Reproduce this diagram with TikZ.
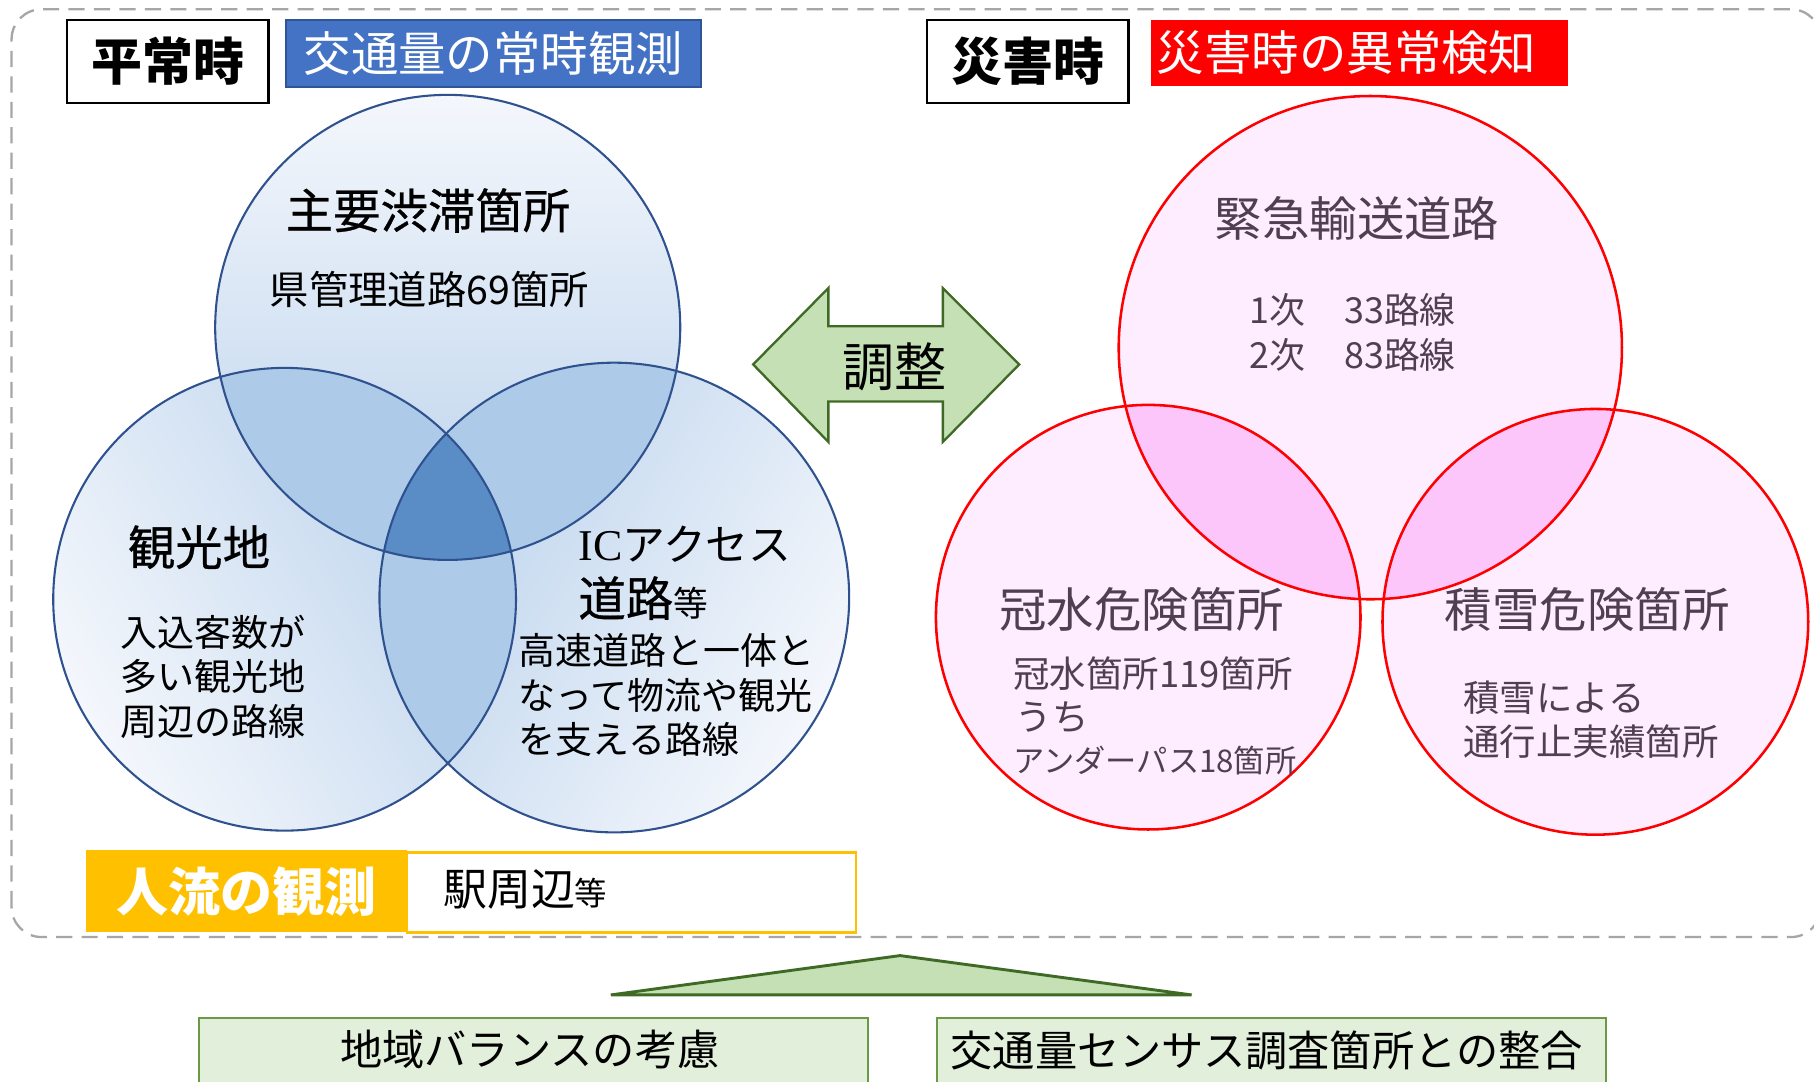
\documentclass[tikz,border=0pt]{standalone}
\usepackage{fontspec}
\setmainfont{Noto Sans CJK JP}
\newfontfamily\serifIC{Liberation Serif}
\newfontfamily\semib{Noto Sans CJK JP}[FakeBold=0.6]
\definecolor{vblue}{HTML}{2F528F}
\definecolor{vlight}{HTML}{F4F7FC}
\definecolor{vmid}{HTML}{BAD2EC}
\definecolor{vpair}{HTML}{ADCBE9}
\definecolor{vtriple}{HTML}{5A8DC5}
\definecolor{pfill}{HTML}{FEEDFE}
\definecolor{ppair}{HTML}{FCC6FA}
\definecolor{ptext}{HTML}{503F50}
\definecolor{hdrblue}{HTML}{4472C4}
\definecolor{hdrblueb}{HTML}{2F5597}
\definecolor{amber}{HTML}{FFC000}
\definecolor{agreen}{HTML}{C5E0B4}
\definecolor{agreenb}{HTML}{3F6A25}
\definecolor{bgreen}{HTML}{E2EFDA}
\definecolor{bgreenb}{HTML}{6B9A45}
\definecolor{dgray}{HTML}{A6A6A6}
\newcommand\fs[1]{\fontsize{#1}{#1}\selectfont}
\newcommand\fsl[2]{\fontsize{#1}{#2}\selectfont}
\begin{document}
\begin{tikzpicture}[x=1pt,y=1pt,
  every node/.style={inner sep=0pt, outer sep=0pt},
  hdrbox/.style={draw=black, line width=2pt, fill=white, minimum width=174pt, minimum height=72pt},
  vcircle/.style={vblue, line width=1.8pt},
  pcircle/.style={red, line width=2.2pt},
  vtitle/.style={font=\semib\fs{41}},
  vsub/.style={font=\fsl{32}{38.5}, align=left},
  ptitle/.style={font=\fs{41}, text=ptext},
  psub/.style={font=\fsl{31.5}{38}, align=left, text=ptext},
  greenbox/.style={draw=bgreenb, fill=bgreen, line width=2pt, minimum width=578pt, minimum height=75pt, anchor=north west}]
\clip (0,0) rectangle (1568,935);
\fill[white] (0,0) rectangle (1568,935);

% dashed frame
\draw[dgray, line width=2pt, dash pattern=on 14pt off 8pt, rounded corners=26pt] (10,125) rectangle (1574,927);

% headers
\node[hdrbox] (heijo) at (145,882) {\fs{44}\bfseries 平常時};
\node[draw=hdrblueb, fill=hdrblue, line width=1.5pt, minimum width=359pt, minimum height=58pt] (kotsu) at (426.5,889) {\fs{41}\color{white}交通量の常時観測};
\node[hdrbox] (saigai) at (888.5,882) {\fs{44}\bfseries 災害時};
\node[fill=red, minimum width=360pt, minimum height=57pt] (ijobox) at (1175,889.5) {};
\node[anchor=west, text=white, font=\fs{41}] (ijo) at (1000,889.5) {災害時の異常検知};

% ---------- left Venn ----------
\coordinate (LT) at (387,652);
\coordinate (LL) at (246,417);
\coordinate (LR) at (531,418.5);
\shade[top color=vlight, bottom color=vmid] (LT) circle (201);
\shade[top color=vlight, bottom color=vmid, shading angle=120] (LL) circle (200);
\shade[top color=vlight, bottom color=vmid, shading angle=240] (LR) circle (203);
\begin{scope}
  \clip (LT) circle (201);
  \fill[vpair] (LL) circle (200);
  \fill[vpair] (LR) circle (203);
\end{scope}
\begin{scope}
  \clip (LL) circle (200);
  \fill[vpair] (LR) circle (203);
\end{scope}
\begin{scope}
  \clip (LT) circle (201);
  \clip (LL) circle (200);
  \fill[vtriple] (LR) circle (203);
\end{scope}
\draw[vcircle] (LT) circle (201);
\draw[vcircle] (LL) circle (200);
\draw[vcircle] (LR) circle (203);

\node[vtitle] (jutai) at (370,753) {主要渋滞箇所};
\node[font=\fs{34}] (kenkanri) at (371,685) {県管理道路69箇所};
\node[vtitle] (kanko) at (172,462) {観光地};
\node[vsub, anchor=west] (kankosub) at (104,350) {入込客数が\\多い観光地\\周辺の路線};
\node[anchor=west] (ic1) at (500,465) {{\fs{38}\serifIC IC}{\fs{37}アクセス}};
\node[anchor=west] (ic2) at (500,418) {{\semib\fs{41}道路}{\fs{30}等}};
\node[vsub, anchor=west] (icsub) at (448,334) {高速道路と一体と\\なって物流や観光\\を支える路線};

% ---------- adjust arrow ----------
\draw[agreenb, fill=agreen, line width=2pt, line join=miter]
  (651,620) -- (716,686) -- (716,653) -- (815,653) -- (815,686) -- (881,620)
  -- (815,553) -- (815,588) -- (716,588) -- (716,553) -- cycle;
\node[font=\fs{45}] (chosei) at (773,618) {調整};

% ---------- right Venn ----------
\coordinate (RT) at (1184.5,634.5);
\coordinate (RL) at (992.5,401.5);
\coordinate (RR) at (1379,397.5);
\fill[pfill] (RT) circle (217.5);
\fill[pfill] (RL) circle (183.5);
\fill[pfill] (RR) circle (184);
\begin{scope}
  \clip (RT) circle (217.5);
  \fill[ppair] (RL) circle (183.5);
  \fill[ppair] (RR) circle (184);
\end{scope}
\draw[pcircle] (RT) circle (217.5);
\draw[pcircle] (RL) circle (183.5);
\draw[pcircle] (RR) circle (184);

\node[ptitle] (kinkyu) at (1173,746) {緊急輸送道路};
\node[anchor=west, text=ptext, font=\fs{31}] (ji1) at (1080,667) {1次};
\node[anchor=west, text=ptext, font=\fs{31}] (ro1) at (1162,667) {33路線};
\node[anchor=west, text=ptext, font=\fs{31}] (ji2) at (1080,628) {2次};
\node[anchor=west, text=ptext, font=\fs{31}] (ro2) at (1162,628) {83路線};
\node[ptitle] (kansui) at (987,408) {冠水危険箇所};
\node[anchor=west, text=ptext, font=\fs{31.5}] (kansui1) at (876,353) {冠水箇所119箇所};
\node[anchor=west, text=ptext, font=\fs{31.5}] (kansui2) at (878,315) {うち};
\node[anchor=west, text=ptext, font=\fs{27}] (kansui3) at (876,278) {アンダーパス18箇所};
\node[ptitle] (sekisetsu) at (1372,408) {積雪危険箇所};
\node[psub, anchor=west] (sekisub) at (1265,313) {積雪による\\通行止実績箇所};

% ---------- people flow ----------
\node[fill=amber, minimum width=278pt, minimum height=71pt] (jinryu) at (213,164.5) {\fs{45}\bfseries\color{white}人流の観測};
\node[draw=amber, fill=white, line width=2pt, minimum width=388pt, minimum height=69pt] (ekibox) at (546,163.5) {};
\node[anchor=base west] (eki) at (383,152) {{\fs{38}駅周辺}{\fs{28}等}};

% ---------- bottom ----------
\draw[agreenb, fill=agreen, line width=2.5pt, line join=miter] (528,75) -- (778,109) -- (1030,75) -- cycle;
\node[greenbox] (chiikibox) at (172,55) {};
\node[font=\fs{36.5}] (chiiki) at (458,28) {地域バランスの考慮};
\node[greenbox] (censusbox) at (810,55) {};
\node[font=\fs{36.5}] (census) at (1095,27) {交通量センサス調査箇所との整合};
\end{tikzpicture}
\end{document}
